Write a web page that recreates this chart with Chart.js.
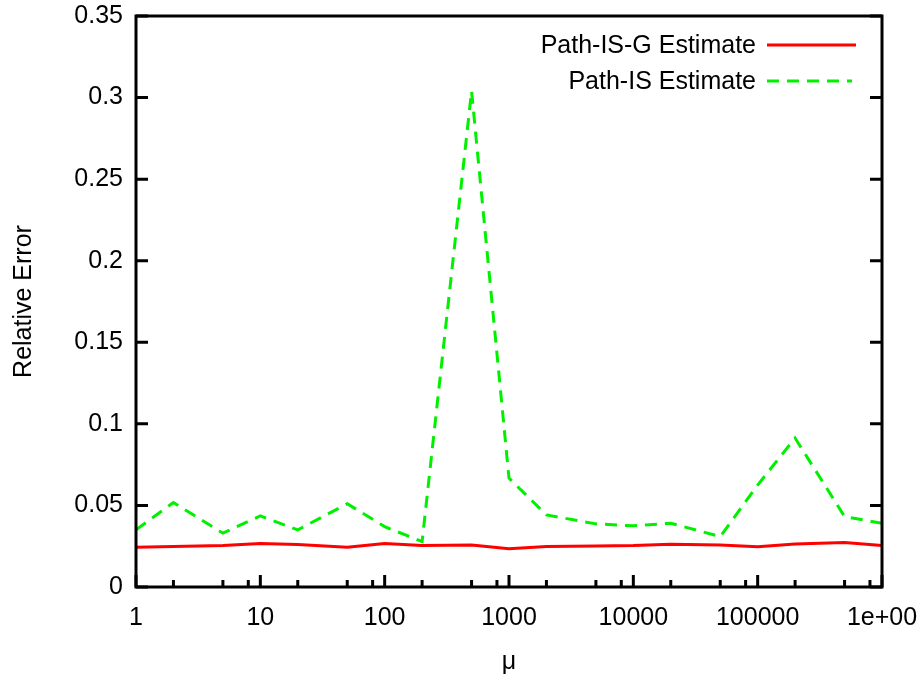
<!DOCTYPE html>
<html>
<head>
<meta charset="utf-8">
<title>Relative Error vs μ</title>
<script src="https://cdn.jsdelivr.net/npm/chart.js"></script>
<style>
  html, body { margin: 0; padding: 0; background: #fff; overflow: hidden; }
  #chart { display: block; }
</style>
</head>
<body>
<canvas id="chart" width="924" height="680"></canvas>
<script>
// mu sample points (log x axis)
const muValues = [1, 2, 5, 10, 20, 50, 100, 200, 500, 1000, 2000, 5000,
  10000, 20000, 50000, 100000, 200000, 500000, 1000000];

const pathISG = [0.0244, 0.0248, 0.0254, 0.0266, 0.0260, 0.0244, 0.0266, 0.0254,
  0.0258, 0.0235, 0.0248, 0.0252, 0.0254, 0.0262, 0.0258, 0.0247, 0.0264, 0.0272, 0.0254];

const pathIS = [0.0350, 0.0518, 0.0330, 0.0436, 0.0350, 0.0510, 0.0370, 0.0278,
  0.3040, 0.0667, 0.0442, 0.0387, 0.0375, 0.0391, 0.0309, 0.0625, 0.0913, 0.0432, 0.0390];

const seriesNames = ["Path-IS-G Estimate", "Path-IS Estimate"];

const xTicks = [1, 10, 100, 1000, 10000, 100000, 1000000];
const xTickLabels = ["1", "10", "100", "1000", "10000", "100000", "1e+00"];
const xMinorSteps = [2, 5, 8];
const yTicks = [0, 0.05, 0.1, 0.15, 0.2, 0.25, 0.3, 0.35];
const yTickLabels = ["0", "0.05", "0.1", "0.15", "0.2", "0.25", "0.3", "0.35"];

const FONT = "'Liberation Sans', Arial, Helvetica, sans-serif";
const toPoints = (ys) => muValues.map((x, i) => ({ x: x, y: ys[i] }));

// frame + inward tick marks, gnuplot style
const framePlugin = {
  id: "frame",
  afterDatasetsDraw(chart) {
    const { ctx, chartArea: a, scales } = chart;
    const xs = scales.x, ys = scales.y;
    ctx.save();
    ctx.strokeStyle = "#000";
    ctx.lineWidth = 3;
    ctx.beginPath();
    xTicks.forEach((v, i) => {
      const px = xs.getPixelForValue(v);
      ctx.moveTo(px, a.bottom);
      ctx.lineTo(px, a.bottom - 12);
      if (i < xTicks.length - 1) {
        xMinorSteps.forEach(m => {
          const mx = xs.getPixelForValue(v * m);
          ctx.moveTo(mx, a.bottom);
          ctx.lineTo(mx, a.bottom - 7);
        });
      }
    });
    yTicks.forEach(v => {
      const py = ys.getPixelForValue(v);
      ctx.moveTo(a.left, py);
      ctx.lineTo(a.left + 12, py);
      ctx.moveTo(a.right, py);
      ctx.lineTo(a.right - 12, py);
    });
    ctx.stroke();
    ctx.lineJoin = "miter";
    ctx.strokeRect(a.left, a.top, a.right - a.left, a.bottom - a.top);
    ctx.restore();
  }
};

// legend: right-aligned text with the line sample to its right
const keyPlugin = {
  id: "key",
  afterDraw(chart) {
    const { ctx } = chart;
    ctx.save();
    ctx.font = "25px " + FONT;
    ctx.textAlign = "right";
    ctx.textBaseline = "middle";
    chart.data.datasets.forEach((ds, i) => {
      const y = 45 + i * 36;
      ctx.fillStyle = "#000";
      ctx.fillText(ds.label, 756, y + 1);
      ctx.strokeStyle = ds.borderColor;
      ctx.lineWidth = ds.borderWidth;
      ctx.setLineDash(ds.borderDash || []);
      ctx.beginPath();
      ctx.moveTo(767, y);
      ctx.lineTo(i === 0 ? 856 : 852, y);
      ctx.stroke();
    });
    ctx.restore();
  }
};

new Chart(document.getElementById("chart"), {
  type: "line",
  data: {
    datasets: [
      {
        label: seriesNames[0],
        data: toPoints(pathISG),
        borderColor: "#ff0000",
        borderWidth: 3,
        pointRadius: 0,
        tension: 0,
        fill: false
      },
      {
        label: seriesNames[1],
        data: toPoints(pathIS),
        borderColor: "#00f000",
        borderWidth: 3,
        borderDash: [12, 8],
        pointRadius: 0,
        tension: 0,
        fill: false
      }
    ]
  },
  options: {
    responsive: false,
    animation: false,
    devicePixelRatio: 1,
    layout: { padding: { top: 16, right: 42, left: 0, bottom: 0 } },
    plugins: {
      legend: { display: false },
      tooltip: { enabled: false }
    },
    scales: {
      x: {
        type: "logarithmic",
        min: 1,
        max: 1000000,
        afterBuildTicks(scale) {
          scale.ticks = xTicks.map(v => ({ value: v }));
        },
        afterFit(scale) {
          scale.height = 93;
          scale.paddingLeft = 0;
          scale.paddingRight = 0;
        },
        grid: { display: false, drawTicks: false },
        border: { display: false },
        ticks: {
          autoSkip: false,
          maxRotation: 0,
          padding: 16,
          color: "#000",
          font: { family: FONT, size: 25 },
          callback: (v, i) => xTickLabels[i]
        },
        title: {
          display: true,
          text: "μ",
          color: "#000",
          font: { family: FONT, size: 25 },
          padding: { top: 0, bottom: 3 }
        }
      },
      y: {
        min: 0,
        max: 0.35,
        afterBuildTicks(scale) {
          scale.ticks = yTicks.map(v => ({ value: v }));
        },
        afterFit(scale) {
          scale.width = 136;
          scale.paddingTop = 0;
          scale.paddingBottom = 0;
        },
        grid: { display: false, drawTicks: false },
        border: { display: false },
        ticks: {
          padding: 13,
          color: "#000",
          font: { family: FONT, size: 25 },
          callback: (v, i) => yTickLabels[i]
        },
        title: {
          display: true,
          text: "Relative Error",
          color: "#000",
          font: { family: FONT, size: 25 },
          padding: { top: 9, bottom: 0 }
        }
      }
    }
  },
  plugins: [framePlugin, keyPlugin]
});
</script>
</body>
</html>
